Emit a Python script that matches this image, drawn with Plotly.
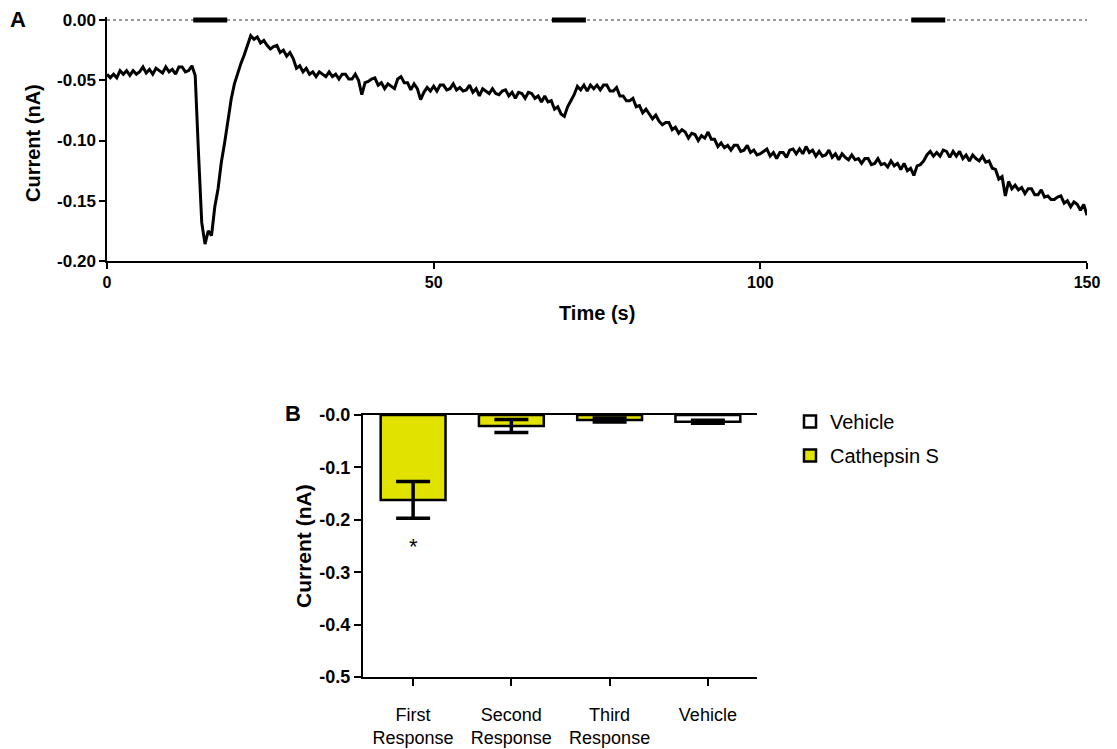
import plotly.graph_objects as go

# ---------------- Panel A data (current trace, sampled every 0.5 s) ----------------
sample_step_s = 0.5
current_nA = [
    -0.045, -0.048, -0.045, -0.048, -0.042, -0.045, -0.042, -0.046, -0.042, -0.045,
    -0.043, -0.039, -0.044, -0.041, -0.045, -0.040, -0.042, -0.044, -0.039, -0.043,
    -0.041, -0.045, -0.039, -0.039, -0.043, -0.042, -0.038, -0.046, -0.110, -0.168,
    -0.186, -0.175, -0.179, -0.155, -0.140, -0.118, -0.102, -0.083, -0.066, -0.053,
    -0.044, -0.036, -0.029, -0.020, -0.013, -0.016, -0.014, -0.019, -0.017, -0.021,
    -0.024, -0.022, -0.021, -0.027, -0.025, -0.030, -0.027, -0.032, -0.040, -0.038,
    -0.043, -0.040, -0.045, -0.043, -0.047, -0.043, -0.045, -0.047, -0.043, -0.047,
    -0.045, -0.049, -0.045, -0.045, -0.049, -0.049, -0.045, -0.050, -0.062, -0.052,
    -0.051, -0.049, -0.048, -0.054, -0.052, -0.057, -0.053, -0.055, -0.057, -0.049,
    -0.047, -0.052, -0.052, -0.058, -0.053, -0.057, -0.066, -0.060, -0.056, -0.059,
    -0.055, -0.059, -0.054, -0.054, -0.058, -0.057, -0.053, -0.058, -0.056, -0.059,
    -0.058, -0.054, -0.060, -0.057, -0.063, -0.057, -0.059, -0.061, -0.057, -0.061,
    -0.062, -0.059, -0.058, -0.063, -0.060, -0.065, -0.060, -0.061, -0.065, -0.060,
    -0.061, -0.065, -0.063, -0.068, -0.063, -0.068, -0.067, -0.074, -0.072, -0.078,
    -0.080, -0.072, -0.067, -0.062, -0.055, -0.058, -0.054, -0.059, -0.054, -0.057,
    -0.054, -0.058, -0.054, -0.054, -0.059, -0.059, -0.056, -0.063, -0.063, -0.067,
    -0.067, -0.065, -0.072, -0.071, -0.077, -0.074, -0.078, -0.082, -0.079, -0.084,
    -0.087, -0.085, -0.085, -0.091, -0.089, -0.094, -0.091, -0.093, -0.098, -0.094,
    -0.095, -0.100, -0.096, -0.098, -0.093, -0.099, -0.099, -0.105, -0.102, -0.106,
    -0.104, -0.108, -0.104, -0.104, -0.109, -0.108, -0.104, -0.110, -0.108, -0.112,
    -0.111, -0.109, -0.107, -0.113, -0.110, -0.115, -0.110, -0.110, -0.114, -0.108,
    -0.107, -0.111, -0.107, -0.111, -0.105, -0.110, -0.108, -0.113, -0.109, -0.113,
    -0.112, -0.108, -0.114, -0.111, -0.116, -0.111, -0.114, -0.116, -0.112, -0.116,
    -0.115, -0.119, -0.115, -0.115, -0.120, -0.119, -0.115, -0.120, -0.119, -0.122,
    -0.117, -0.121, -0.119, -0.124, -0.119, -0.125, -0.123, -0.129, -0.121, -0.120,
    -0.117, -0.112, -0.109, -0.113, -0.110, -0.113, -0.108, -0.109, -0.114, -0.109,
    -0.113, -0.109, -0.115, -0.112, -0.117, -0.112, -0.115, -0.117, -0.113, -0.118,
    -0.117, -0.123, -0.124, -0.132, -0.130, -0.146, -0.134, -0.140, -0.137, -0.141,
    -0.139, -0.144, -0.140, -0.140, -0.145, -0.145, -0.141, -0.147, -0.146, -0.149,
    -0.149, -0.147, -0.146, -0.152, -0.150, -0.155, -0.151, -0.153, -0.158, -0.153,
    -0.162,
]
time_s = [i * sample_step_s for i in range(len(current_nA))]

# application periods (black bars on the zero line)
stim_start_s = [13.2, 68.1, 123.1]
stim_end_s = [18.4, 73.3, 128.3]

a_xticks = [0, 50, 100, 150]
a_yticks = [0.00, -0.05, -0.10, -0.15, -0.20]
a_yticklabels = ["0.00", "-0.05", "-0.10", "-0.15", "-0.20"]

# ---------------- Panel B data ----------------
categories = ["First<br>Response", "Second<br>Response", "Third<br>Response", "Vehicle"]
cathepsin_cats = categories[:3]
cathepsin_mean = [-0.162, -0.021, -0.0095]
cathepsin_sem = [0.035, 0.0125, 0.004]
vehicle_cats = categories[3:]
vehicle_mean = [-0.0128]
vehicle_sem = [0.003]

b_yticks = [0.0, -0.1, -0.2, -0.3, -0.4, -0.5]
b_yticklabels = ["-0.0", "-0.1", "-0.2", "-0.3", "-0.4", "-0.5"]

FONT = "Arial, Liberation Sans, Helvetica, sans-serif"
YELLOW = "#e2e200"

fig = go.Figure()

# Panel A trace
fig.add_trace(go.Scatter(
    x=time_s, y=current_nA, mode="lines",
    line=dict(color="black", width=3),
    xaxis="x", yaxis="y", showlegend=False, hoverinfo="skip",
))
# zero dotted line
fig.add_trace(go.Scatter(
    x=[a_xticks[0], a_xticks[-1]], y=[0, 0], mode="lines",
    line=dict(color="#333333", width=1, dash="dot"),
    xaxis="x", yaxis="y", showlegend=False, hoverinfo="skip",
))
# stimulus bars
for s, e in zip(stim_start_s, stim_end_s):
    fig.add_trace(go.Scatter(
        x=[s, e], y=[0, 0], mode="lines",
        line=dict(color="black", width=5),
        xaxis="x", yaxis="y", showlegend=False, hoverinfo="skip",
    ))

# Panel B bars
fig.add_trace(go.Bar(
    x=vehicle_cats, y=vehicle_mean, name="Vehicle", legendgroup="veh",
    marker=dict(color="white", line=dict(color="black", width=2.5)),
    error_y=dict(type="data", array=vehicle_sem, color="black", thickness=3.5, width=17),
    width=0.66, xaxis="x2", yaxis="y2",
))
fig.add_trace(go.Bar(
    x=cathepsin_cats, y=cathepsin_mean, name="Cathepsin S", legendgroup="cat",
    marker=dict(color=YELLOW, line=dict(color="black", width=2.5)),
    error_y=dict(type="data", array=cathepsin_sem, color="black", thickness=3.5, width=17),
    width=0.66, xaxis="x2", yaxis="y2",
))

W, H = 1117, 749
axis_common = dict(
    showline=True, linecolor="black", showgrid=False, zeroline=False,
    ticks="outside", tickcolor="black", automargin=False,
)
fig.update_layout(
    width=W, height=H,
    margin=dict(l=0, r=0, t=0, b=0, autoexpand=False),
    paper_bgcolor="white", plot_bgcolor="white",
    font=dict(family=FONT, color="black"),
    barmode="overlay",
    xaxis=dict(
        domain=[107 / W, 1087 / W], range=[0, 150], anchor="y",
        tickvals=a_xticks, ticktext=[str(v) for v in a_xticks],
        linewidth=1.5, ticklen=6, tickwidth=1.5,
        tickfont=dict(size=16, family=FONT, weight="bold"),
        **axis_common,
    ),
    yaxis=dict(
        # small headroom above zero so the stimulus bars are not clipped
        domain=[1 - 261 / H, 1 - 17 / H], range=[-0.20, 0.0025], anchor="x",
        tickvals=a_yticks, ticktext=a_yticklabels,
        linewidth=1.5, ticklen=6, tickwidth=1.5,
        tickfont=dict(size=17, family=FONT, weight="bold"),
        **axis_common,
    ),
    xaxis2=dict(
        domain=[363 / W, 757 / W], range=[-0.51, 3.5], anchor="y2",
        type="category", categoryorder="array", categoryarray=categories,
        linewidth=2, mirror=True, ticklen=7, tickwidth=2,
        ticklabelstandoff=13,
        tickfont=dict(size=18, family=FONT),
        **axis_common,
    ),
    yaxis2=dict(
        domain=[1 - 677 / H, 1 - 415 / H], range=[-0.5, 0.0], anchor="x2",
        tickvals=b_yticks, ticktext=b_yticklabels,
        linewidth=2, ticklen=7, tickwidth=2,
        tickfont=dict(size=18, family=FONT, weight="bold"),
        **axis_common,
    ),
    legend=dict(
        x=790 / W, y=1 - 402 / H, xanchor="left", yanchor="top",
        font=dict(size=20, family=FONT), bgcolor="rgba(0,0,0,0)",
        traceorder="grouped", tracegroupgap=5, itemwidth=30,
    ),
    annotations=[
        dict(text="<b>A</b>", x=8 / W, y=1 - 5 / H, xref="paper", yref="paper",
             xanchor="left", yanchor="top", showarrow=False, font=dict(size=22)),
        dict(text="<b>B</b>", x=283 / W, y=1 - 399 / H, xref="paper", yref="paper",
             xanchor="left", yanchor="top", showarrow=False, font=dict(size=22)),
        dict(text="<b>Time (s)</b>", x=597 / W, y=1 - 313 / H, xref="paper", yref="paper",
             xanchor="center", yanchor="middle", showarrow=False, font=dict(size=20)),
        dict(text="<b>Current (nA)</b>", x=33 / W, y=1 - 143 / H, xref="paper", yref="paper",
             xanchor="center", yanchor="middle", textangle=-90, showarrow=False,
             font=dict(size=20)),
        dict(text="<b>Current (nA)</b>", x=303 / W, y=1 - 546 / H, xref="paper", yref="paper",
             xanchor="center", yanchor="middle", textangle=-90, showarrow=False,
             font=dict(size=21)),
        dict(text="*", x=categories[0], y=-0.25, xref="x2", yref="y2",
             showarrow=False, font=dict(size=22)),
    ],
)

fig.write_html("out.html")
